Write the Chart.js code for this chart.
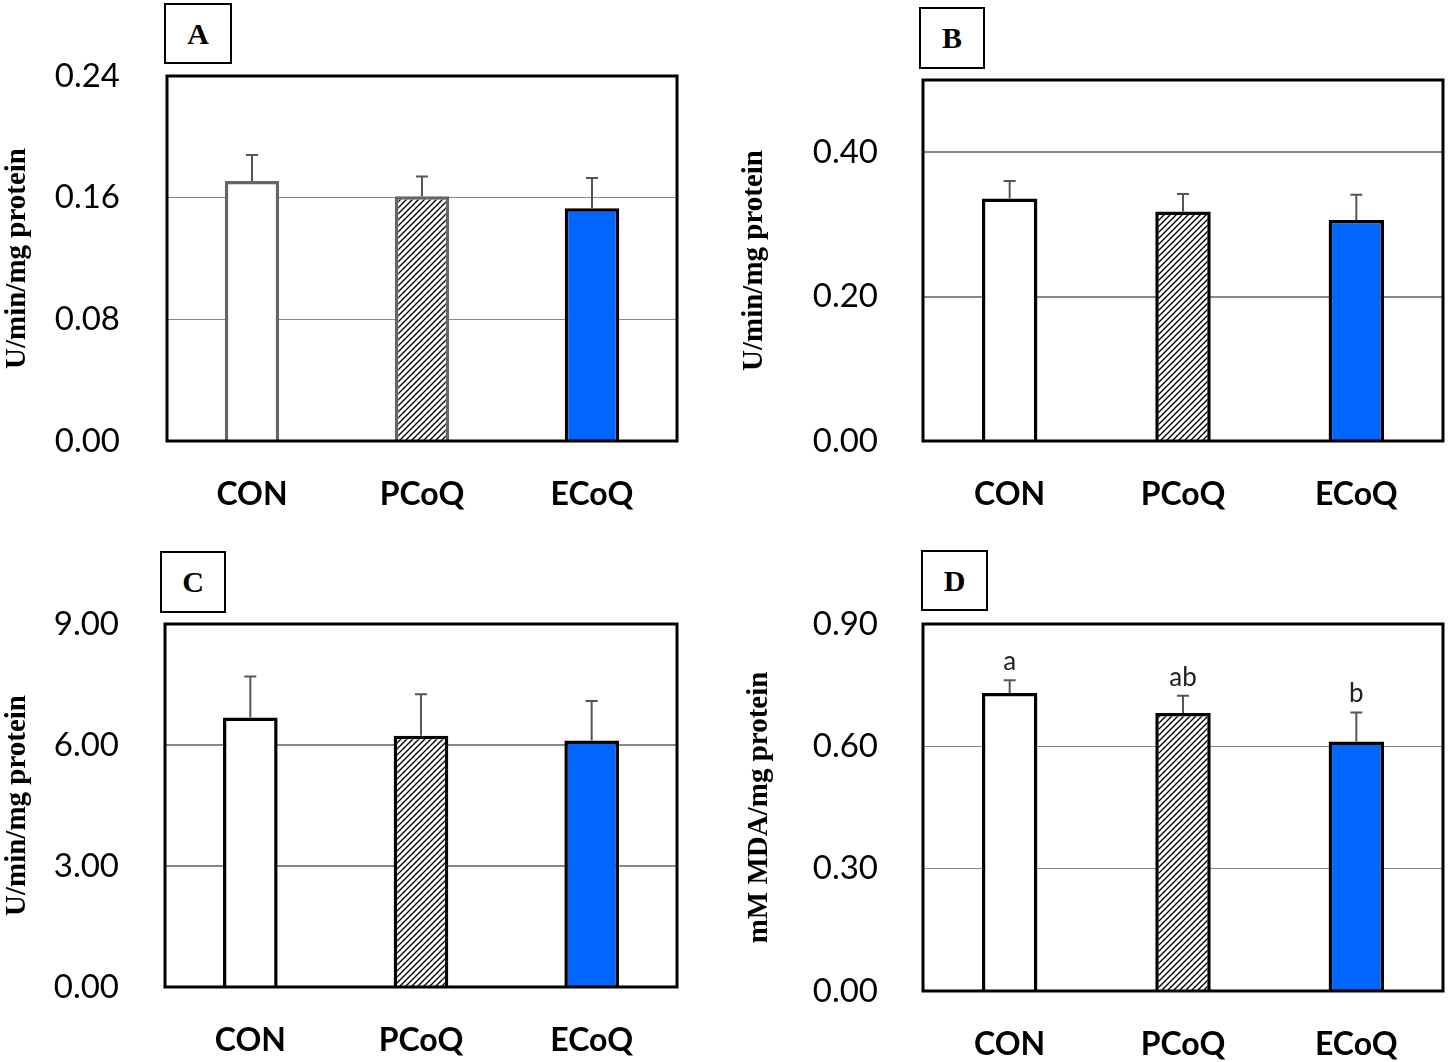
<!DOCTYPE html>
<html>
<head>
<meta charset="utf-8">
<script src="https://cdn.jsdelivr.net/npm/chart.js@4"></script>
<style>
  html, body { margin: 0; padding: 0; background: #fff; }
  body { width: 1449px; height: 1062px; position: relative; overflow: hidden; }
  canvas { position: absolute; }
  .lbl { position: absolute; box-sizing: border-box; border: 2px solid #000; background: #fff;
         font: bold 30px "Liberation Serif", "Times New Roman", serif; color: #000;
         display: flex; align-items: center; justify-content: center; }
</style>
</head>
<body>
<canvas id="cA" width="700" height="530" style="left:0;top:0"></canvas>
<canvas id="cB" width="712" height="530" style="left:737px;top:0"></canvas>
<canvas id="cC" width="700" height="522" style="left:0;top:540px"></canvas>
<canvas id="cD" width="707" height="522" style="left:742px;top:540px"></canvas>
<div class="lbl" style="left:164px;top:3px;width:68px;height:61px">A</div>
<div class="lbl" style="left:919px;top:7px;width:66px;height:62px">B</div>
<div class="lbl" style="left:160px;top:551px;width:66px;height:62px">C</div>
<div class="lbl" style="left:921px;top:550px;width:67px;height:61px">D</div>
<script>
// ---- data ----
const categories = ['CON', 'PCoQ', 'ECoQ'];

const meanA = [0.171, 0.161, 0.153];
const errA  = [0.017, 0.013, 0.020];
const ticksA = [0, 0.08, 0.16, 0.24];

const meanB = [0.336, 0.318, 0.306];
const errB  = [0.024, 0.024, 0.035];
const ticksB = [0, 0.20, 0.40];

const meanC = [6.68, 6.23, 6.11];
const errC  = [1.02, 1.03, 0.98];
const ticksC = [0, 3, 6, 9];

const meanD = [0.731, 0.682, 0.612];
const errD  = [0.031, 0.042, 0.071];
const ticksD = [0, 0.30, 0.60, 0.90];
const lettersD = ['a', 'ab', 'b'];

const yTitleABC = 'U/min/mg protein';
const yTitleD = 'mM MDA/mg protein';

// ---- styles ----
function hatch() {
  const c = document.createElement('canvas');
  c.width = 6; c.height = 6;
  const g = c.getContext('2d');
  g.fillStyle = '#fff'; g.fillRect(0, 0, 6, 6);
  g.strokeStyle = '#000'; g.lineWidth = 1.4;
  g.beginPath();
  g.moveTo(-1, 7); g.lineTo(7, -1);
  g.moveTo(-1, 1); g.lineTo(1, -1);
  g.moveTo(5, 7); g.lineTo(7, 5);
  g.stroke();
  return g.createPattern(c, 'repeat');
}
const BLUE = '#0066FF';

const framePlugin = {
  id: 'frame',
  afterDatasetsDraw(chart) {
    const { ctx, chartArea: a } = chart;
    ctx.save();
    ctx.strokeStyle = '#000';
    ctx.lineWidth = 3;
    ctx.strokeRect(a.left, a.top, a.right - a.left, a.bottom - a.top);
    ctx.restore();
  }
};

const errPlugin = {
  id: 'errbars',
  afterDatasetsDraw(chart, args, opts) {
    const { ctx } = chart;
    const ys = chart.scales.y;
    const meta = chart.getDatasetMeta(0);
    const ds = chart.data.datasets[0];
    ctx.save();
    ctx.strokeStyle = '#555';
    ctx.lineWidth = 2;
    ds.data.forEach((v, i) => {
      const x = meta.data[i].x;
      const y0 = ys.getPixelForValue(v);
      const y1 = ys.getPixelForValue(v + opts.err[i]);
      ctx.beginPath();
      ctx.moveTo(x, y0); ctx.lineTo(x, y1);
      ctx.moveTo(x - 6, y1); ctx.lineTo(x + 6, y1);
      ctx.stroke();
      if (opts.letters) {
        ctx.fillStyle = '#222';
        ctx.font = '26px Lato, "Open Sans", sans-serif';
        ctx.textAlign = 'center';
        ctx.textBaseline = 'alphabetic';
        ctx.fillText(opts.letters[i], x, y1 - 10);
      }
    });
    ctx.restore();
  }
};

function makeChart(id, cfg) {
  const pattern = hatch();
  return new Chart(document.getElementById(id), {
    type: 'bar',
    data: {
      labels: categories,
      datasets: [{
        data: cfg.mean,
        backgroundColor: ['#fff', pattern, BLUE],
        borderColor: cfg.borderColors,
        borderWidth: 3.5,
        borderSkipped: 'start',
        categoryPercentage: 1,
        barPercentage: 0.32
      }]
    },
    plugins: [framePlugin, errPlugin],
    options: {
      responsive: false,
      animation: false,
      events: [],
      layout: { padding: { top: cfg.padTop, right: cfg.padRight, left: 0, bottom: 0 } },
      plugins: {
        legend: { display: false },
        tooltip: { enabled: false },
        errbars: { err: cfg.err, letters: cfg.letters || null }
      },
      scales: {
        x: {
          grid: { display: false },
          border: { display: false },
          ticks: {
            color: '#000',
            padding: 26,
            font: { family: 'Lato, "Open Sans", sans-serif', size: 32, weight: 'bold' }
          },
          afterFit(s) { s.height = cfg.xHeight; }
        },
        y: {
          min: 0,
          max: cfg.max,
          border: { display: false },
          grid: { color: '#888', lineWidth: cfg.gridW, drawTicks: false },
          ticks: {
            color: '#000',
            padding: cfg.tickPad,
            font: { family: 'Lato, "Open Sans", sans-serif', size: 33 },
            callback: (v) => Number(v).toFixed(2)
          },
          afterBuildTicks(s) { s.ticks = cfg.ticks.map(v => ({ value: v })); },
          title: {
            display: true,
            text: cfg.title,
            color: '#000',
            padding: { top: 0, bottom: 0 },
            font: { family: '"Liberation Serif", "Times New Roman", serif', size: 29, weight: 'bold' }
          },
          afterFit(s) { s.width = cfg.yWidth; }
        }
      }
    }
  });
}

makeChart('cA', { mean: meanA, err: errA, ticks: ticksA, max: 0.24, title: yTitleABC,
  borderColors: ['#666', '#666', '#000'], padTop: 76, padRight: 23, yWidth: 167, xHeight: 89,
  tickPad: 47, gridW: 1 });
makeChart('cB', { mean: meanB, err: errB, ticks: ticksB, max: 0.5, title: yTitleABC,
  borderColors: ['#000', '#000', '#000'], padTop: 80, padRight: 6, yWidth: 186, xHeight: 89,
  tickPad: 45, gridW: 2 });
makeChart('cC', { mean: meanC, err: errC, ticks: ticksC, max: 9, title: yTitleABC,
  borderColors: ['#000', '#000', '#000'], padTop: 84, padRight: 23, yWidth: 165, xHeight: 75,
  tickPad: 46, gridW: 2 });
makeChart('cD', { mean: meanD, err: errD, ticks: ticksD, max: 0.9, title: yTitleD, letters: lettersD,
  borderColors: ['#000', '#000', '#000'], padTop: 84, padRight: 6, yWidth: 181, xHeight: 71,
  tickPad: 45, gridW: 1 });
</script>
</body>
</html>
